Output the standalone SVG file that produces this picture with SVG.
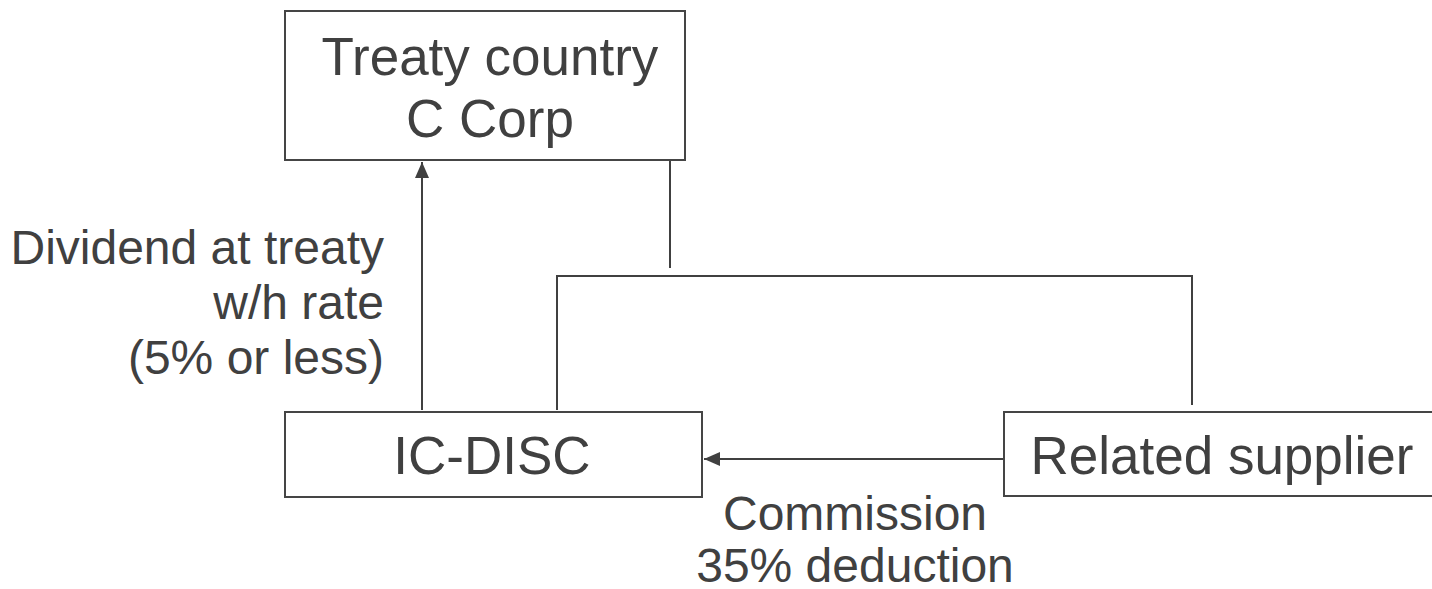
<svg xmlns="http://www.w3.org/2000/svg" width="1432" height="589" viewBox="0 0 1432 589">
  <style>
    .box { fill: #ffffff; stroke: #454545; stroke-width: 2; }
    .txt { font-family: "Liberation Sans", Arial, sans-serif; font-size: 53px; fill: #404040; }
    .lbl { font-family: "Liberation Sans", Arial, sans-serif; font-size: 48px; fill: #404040; }
    .mid { text-anchor: middle; }
    .end { text-anchor: end; }
    .wire { fill: none; stroke: #404040; stroke-width: 2; }
  </style>
  <defs>
    <marker id="arrow" viewBox="0 0 16 16" refX="16" refY="8" markerWidth="16" markerHeight="16" markerUnits="userSpaceOnUse" orient="auto">
      <path d="M0,1 L16,8 L0,15 Z" fill="#404040"/>
    </marker>
  </defs>

  <rect width="1432" height="589" fill="#ffffff"/>

  <g id="connectors">
    <line class="wire" x1="422" y1="410" x2="422" y2="162" marker-end="url(#arrow)"/>
    <line class="wire" x1="670" y1="161" x2="670" y2="268"/>
    <path class="wire" d="M557,410 V276 H1192 V405"/>
    <line class="wire" x1="1003" y1="459" x2="704" y2="459" marker-end="url(#arrow)"/>
  </g>

  <g id="treaty-corp">
    <rect class="box" x="285" y="11" width="400" height="149"/>
    <text class="txt mid" x="490" y="75">Treaty country</text>
    <text class="txt mid" x="490" y="137">C Corp</text>
  </g>

  <g id="ic-disc">
    <rect class="box" x="285" y="412" width="417" height="85"/>
    <text class="txt mid" x="492" y="474">IC-DISC</text>
  </g>

  <g id="related-supplier">
    <rect class="box" x="1004" y="412" width="434" height="84"/>
    <text class="txt mid" x="1222" y="474">Related supplier</text>
  </g>

  <g id="dividend-label">
    <text class="lbl end" x="384" y="264">Dividend at treaty</text>
    <text class="lbl end" x="384" y="319">w/h rate</text>
    <text class="lbl end" x="384" y="374">(5% or less)</text>
  </g>

  <g id="commission-label">
    <text class="lbl mid" x="855" y="530">Commission</text>
    <text class="lbl mid" x="855" y="582">35% deduction</text>
  </g>
</svg>
